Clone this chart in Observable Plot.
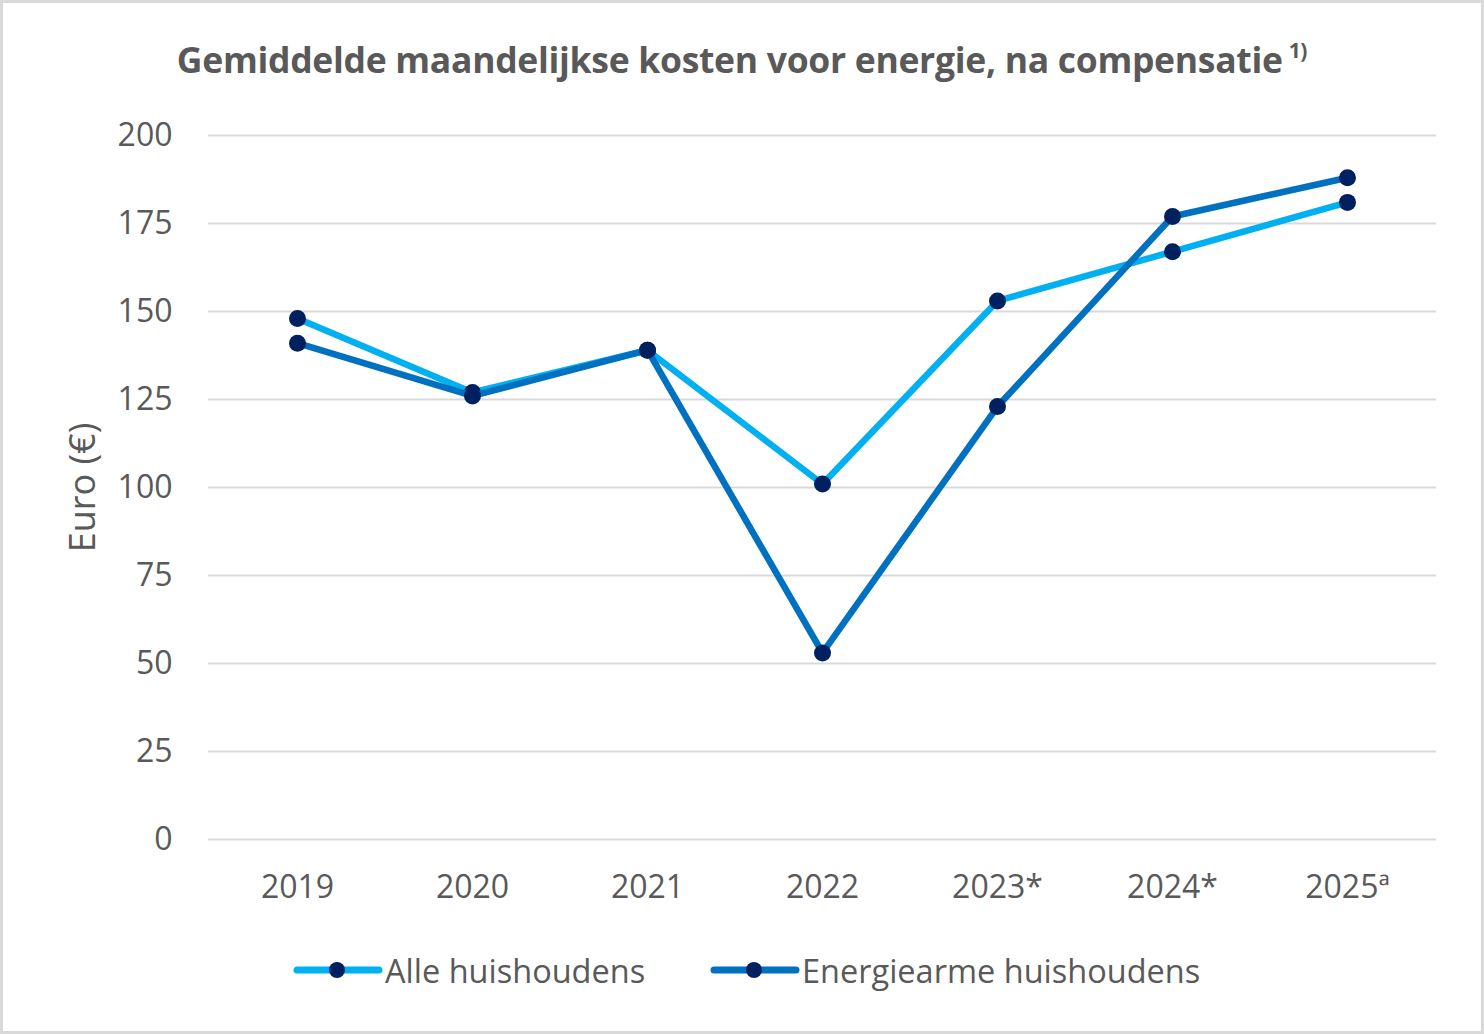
<!DOCTYPE html>
<html>
<head>
<meta charset="utf-8">
<script src="https://cdn.jsdelivr.net/npm/d3@7"></script>
<script src="https://cdn.jsdelivr.net/npm/@observablehq/plot@0.6"></script>
<style>
  html, body { margin: 0; padding: 0; background: #fff; }
  #wrap { position: relative; width: 1484px; height: 1034px; overflow: hidden; font-family: "Open Sans", sans-serif; color: #595959; }
  #border { position: absolute; left: 0; top: 0; width: 1484px; height: 1034px; box-sizing: border-box; border: 3px solid #d9d9d9; pointer-events: none; }
  #title { position: absolute; left: 0; width: 1484px; top: 38px; text-align: center; font-weight: 700; font-size: 35.5px; line-height: 42px; letter-spacing: -0.3px; }
  #title sup { font-size: 21px; vertical-align: 0; position: relative; top: -15px; margin-left: 6px; }
  #chart { position: absolute; left: 0; top: 100px; }
  #legend { position: absolute; left: 0; top: 945px; width: 1484px; height: 50px; font-size: 32.5px; }
  .item { position: absolute; top: 0; height: 50px; display: flex; align-items: center; }
  .item svg { display: block; }
</style>
</head>
<body>
<div id="wrap">
  <div id="title">Gemiddelde maandelijkse kosten voor energie, na compensatie<sup>1)</sup></div>
  <div id="chart"></div>
  <div id="legend"></div>
  <div id="border"></div>
</div>
<script>
const years = ["2019", "2020", "2021", "2022", "2023*", "2024*", "2025ª"];
const alleHuishoudens = [148, 127, 139, 101, 153, 167, 181];
const energiearmeHuishoudens = [141, 126, 139, 53, 123, 177, 188];
const yTicks = [0, 25, 50, 75, 100, 125, 150, 175, 200];
const seriesNames = ["Alle huishoudens", "Energiearme huishoudens"];
const seriesColors = ["#00b0f0", "#0070c0"];
const markerColor = "#002060";

const rowsAlle = years.map((y, i) => ({year: y, value: alleHuishoudens[i], series: seriesNames[0]}));
const rowsArm = years.map((y, i) => ({year: y, value: energiearmeHuishoudens[i], series: seriesNames[1]}));

const chart = Plot.plot({
  width: 1484,
  height: 819,
  marginTop: 35,
  marginBottom: 80,
  marginLeft: 208,
  marginRight: 48,
  style: {fontFamily: "Open Sans, sans-serif", fontSize: "32px", color: "#595959", background: "transparent"},
  x: {type: "point", domain: years, padding: 0.5},
  y: {domain: [0, 200]},
  marks: [
    Plot.ruleY(yTicks, {stroke: "#d9d9d9", strokeWidth: 2}),
    Plot.axisY({ticks: yTicks, tickSize: 0, tickPadding: 36, label: null, fill: "#595959", fontSize: 32}),
    Plot.axisX({tickSize: 0, tickPadding: 36, label: null, fill: "#595959", fontSize: 32}),
    Plot.lineY(rowsAlle, {x: "year", y: "value", stroke: seriesColors[0], strokeWidth: 6.5}),
    Plot.dot(rowsAlle, {x: "year", y: "value", r: 8.5, fill: markerColor, stroke: "none"}),
    Plot.lineY(rowsArm, {x: "year", y: "value", stroke: seriesColors[1], strokeWidth: 6.5}),
    Plot.dot(rowsArm, {x: "year", y: "value", r: 8.5, fill: markerColor, stroke: "none"}),
    Plot.text(["Euro (€)"], {frameAnchor: "left", dx: -125, rotate: -90, textAnchor: "middle", fontSize: 36, fill: "#595959"})
  ]
});
document.getElementById("chart").appendChild(chart);

// legend
const legend = document.getElementById("legend");
const legendLeft = [293, 710];
seriesNames.forEach((name, i) => {
  const item = document.createElement("div");
  item.className = "item";
  item.style.left = legendLeft[i] + "px";
  item.innerHTML = `<svg width="90" height="20"><line x1="4" x2="86" y1="10" y2="10" stroke="${seriesColors[i]}" stroke-width="7" stroke-linecap="round"/><circle cx="44" cy="10" r="8" fill="${markerColor}"/></svg><span style="margin-left:2px">${name}</span>`;
  legend.appendChild(item);
});
</script>
</body>
</html>
